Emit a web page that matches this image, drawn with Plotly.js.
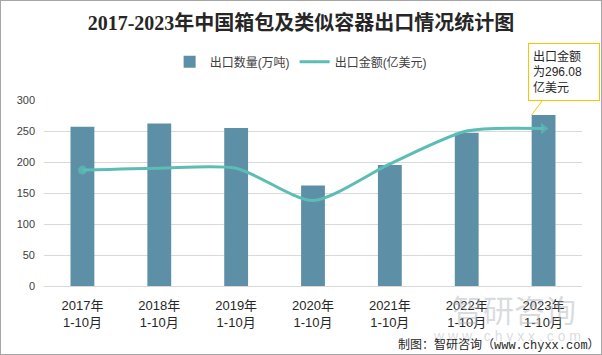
<!DOCTYPE html>
<html>
<head>
<meta charset="utf-8">
<script src="https://cdn.plot.ly/plotly-3.0.1.min.js"></script>
<style>
  html, body { margin: 0; padding: 0; background: #fff; }
  #wrap { position: relative; width: 602px; height: 355px; }
  #chart { width: 602px; height: 355px; }
  #frame { position: absolute; left: 0; top: 0; width: 602px; height: 355px; box-sizing: border-box; border: 1px solid #a6a6a6; pointer-events: none; }
</style>
</head>
<body>
<div id="wrap"><div id="chart"></div><div id="frame"></div></div>
<script>
const categories = ["2017年<br>1-10月", "2018年<br>1-10月", "2019年<br>1-10月", "2020年<br>1-10月", "2021年<br>1-10月", "2022年<br>1-10月", "2023年<br>1-10月"];
const exportVolume = [257, 262, 255, 162, 195, 247, 276];   // 出口数量(万吨)
const exportValue = [187, 190, 190, 138, 197, 250, 254];    // 出口金额(亿美元), as drawn
const yTicks = [0, 50, 100, 150, 200, 250, 300];
const calloutText = "出口金额<br>为296.08<br>亿美元";

const cjk = "Liberation Sans, Noto Sans CJK SC, sans-serif";
const last = exportValue.length - 1;

const traces = [
  {
    type: "bar",
    name: "出口数量(万吨)",
    x: categories,
    y: exportVolume,
    marker: { color: "#5d8fa7" },
    hoverinfo: "x+y"
  },
  {
    type: "scatter",
    mode: "lines+markers",
    name: "出口金额(亿美元)",
    x: categories,
    y: exportValue,
    line: { color: "#5bbdb4", width: 3, shape: "spline", smoothing: 0.7 },
    marker: {
      color: "#5bbdb4",
      symbol: exportValue.map((v, i) => i === last ? "triangle-right" : "circle"),
      size: exportValue.map((v, i) => i === 0 ? 9 : (i === last ? 10 : 0)),
      line: { width: 0 }
    }
  }
];

const layout = {
  width: 602,
  height: 355,
  margin: { l: 44, r: 20, t: 100, b: 69, autoexpand: false },
  paper_bgcolor: "#ffffff",
  plot_bgcolor: "#ffffff",
  bargap: 0.69,
  showlegend: true,
  title: {
    text: "2017-2023年中国箱包及类似容器出口情况统计图",
    font: { family: "Liberation Serif, Noto Sans CJK SC, serif", size: 20, color: "#262626", weight: "bold" },
    x: 0.5, xref: "container", xanchor: "center",
    y: 0.935, yref: "container", yanchor: "middle"
  },
  legend: {
    orientation: "h",
    x: 0.477, xanchor: "center",
    y: 1.205, yanchor: "middle",
    font: { family: cjk, size: 12, color: "#404040" },
    itemwidth: 30,
    bgcolor: "rgba(0,0,0,0)"
  },
  xaxis: {
    type: "category",
    range: [-0.5, 6.5],
    tickfont: { family: cjk, size: 13, color: "#262626" },
    tickangle: 0,
    ticks: "",
    showline: false,
    showgrid: false,
    ticklabelstandoff: 10,
    automargin: false,
    fixedrange: true
  },
  yaxis: {
    range: [0, 300],
    tickvals: yTicks,
    ticktext: yTicks.map(String),
    tickfont: { family: "Liberation Sans, sans-serif", size: 11, color: "#404040" },
    ticks: "",
    showgrid: true,
    gridcolor: "#d9d9d9",
    gridwidth: 1,
    zeroline: true,
    zerolinecolor: "#d9d9d9",
    zerolinewidth: 1,
    showline: false,
    ticklabelstandoff: 8,
    automargin: false,
    fixedrange: true
  },
  annotations: [
    {
      x: last - 0.155,
      y: exportVolume[last],
      xref: "x", yref: "y",
      text: calloutText,
      showarrow: true,
      arrowhead: 0,
      arrowwidth: 1,
      arrowcolor: "#ffc000",
      ax: 32, ay: -43,
      align: "left",
      width: 62, height: 48,
      borderpad: 4,
      bordercolor: "#ffc000",
      borderwidth: 1,
      bgcolor: "#ffffff",
      font: { family: cjk, size: 12, color: "#262626" }
    },
    {
      x: 0.755, y: -0.12, xref: "paper", yref: "paper",
      xanchor: "left", yanchor: "middle",
      text: "智研咨询", showarrow: false,
      font: { family: "Noto Sans CJK SC, sans-serif", size: 31, color: "rgba(170,175,182,0.45)" }
    },
    {
      x: 0.72, y: -0.27, xref: "paper", yref: "paper",
      xanchor: "left", yanchor: "middle",
      text: "w w w . c h y x x . c o m", showarrow: false,
      font: { family: "Liberation Sans, sans-serif", size: 14, color: "rgba(170,175,182,0.45)" }
    },
    {
      x: 1.038, y: -0.315, xref: "paper", yref: "paper",
      xanchor: "right", yanchor: "middle",
      text: "制图：智研咨询（www.chyxx.com）", showarrow: false,
      font: { family: "Liberation Mono, Noto Sans CJK SC, monospace", size: 12, color: "#262626" }
    }
  ]
};

Plotly.newPlot("chart", traces, layout, { displayModeBar: false, staticPlot: true });
</script>
</body>
</html>
